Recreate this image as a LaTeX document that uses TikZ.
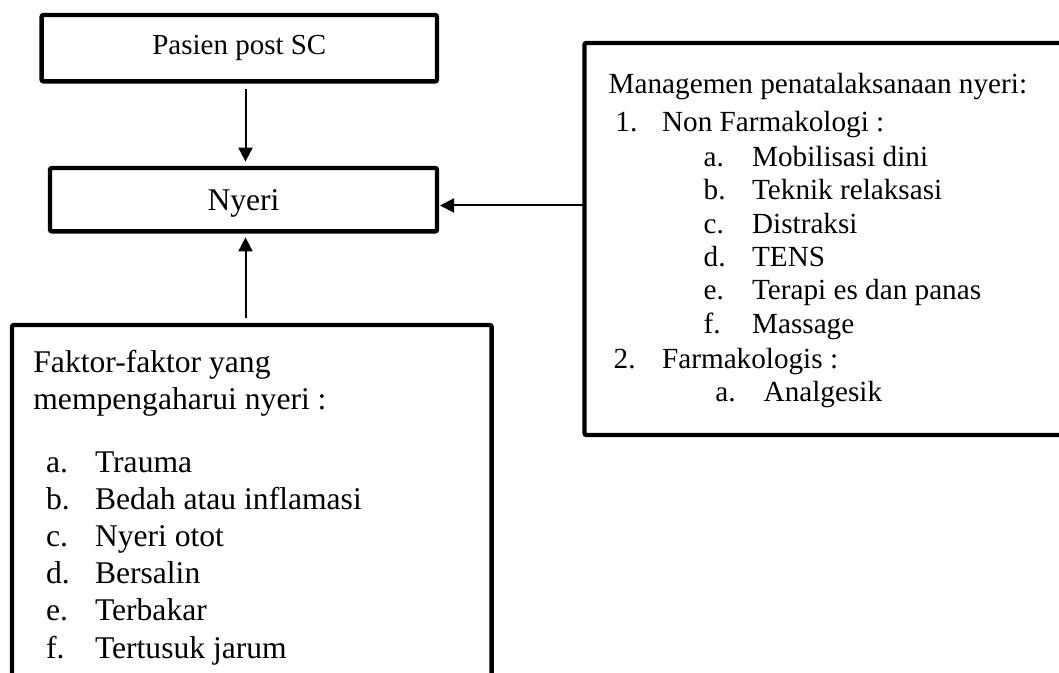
\documentclass[tikz,border=0pt]{standalone}
\usepackage{fontspec}
\setmainfont{Liberation Serif}[Ligatures=CommonOff]
\usetikzlibrary{arrows.meta}
\tikzset{
  box/.style   = {draw, line width=2.2pt, rounded corners=1pt, inner sep=0pt, outer sep=0pt},
  mtext/.style = {inner sep=0pt, font=\fontsize{14.6pt}{17pt}\selectfont},
  ftext/.style = {inner sep=0pt, font=\fontsize{15.8pt}{19pt}\selectfont},
  conn/.style  = {line width=1pt, -{Triangle[length=7pt,width=7pt]}}
}
\newcommand{\ListItem}[7]{%
  % item label (1., a., ...) in its own column
  \node[#1, anchor=base west] (#2-l) at (#3,#5) {#6};
  % item text in the text column
  \node[#1, anchor=base west] (#2-t) at (#4,#5) {#7};
}

\begin{document}
\begin{tikzpicture}[x=0.5pt, y=-0.5pt]
    % frame of the page, boxes run past it on the right and bottom
    \useasboundingbox (0,0) rectangle (1059,673);
    \clip (0,0) rectangle (1059,673);

    % main boxes
    \node[box, minimum width=197.7pt, minimum height=33.2pt,
      font=\fontsize{14.5pt}{17pt}\selectfont] (pasien) at (239.3,48.2) {Pasien post SC};
    \node[box, minimum width=193.5pt, minimum height=31.7pt, text depth=0pt,
      font=\fontsize{15.8pt}{19pt}\selectfont] (nyeri) at (243.5,199.7) {Nyeri};
    \node[box, minimum width=257.8pt, minimum height=196pt] (mgmt) at (842.3,239) {};
    \node[box, minimum width=239.8pt, minimum height=197.5pt] (faktor) at (251.8,522.5) {};

    % connectors
    \coordinate (vline) at (245.5,0);
    \coordinate (hline) at (0,205.5);
    \draw[conn, shorten <=4pt, shorten >=3.2pt] (pasien.south -| vline) -- (nyeri.north -| vline);
    \draw[conn, shorten <=3.5pt, shorten >=3pt] (faktor.north -| vline) -- (nyeri.south -| vline);
    \draw[conn, shorten >=1.5pt] (mgmt.west |- hline) -- (nyeri.east |- hline);

    % pain management list
    \node[mtext, anchor=base west] (mtitle) at (608.3,93.3) {Managemen penatalaksanaan nyeri:};
    \ListItem{mtext}{m1}{615}{661.7}{131.7}{1.}{Non Farmakologi :}
    \ListItem{mtext}{m1a}{703.3}{751.7}{166.7}{a.}{Mobilisasi dini}
    \ListItem{mtext}{m1b}{703.3}{751.7}{200}{b.}{Teknik relaksasi}
    \ListItem{mtext}{m1c}{703.3}{751.7}{233.3}{c.}{Distraksi}
    \ListItem{mtext}{m1d}{703.3}{751.7}{266.7}{d.}{TENS}
    \ListItem{mtext}{m1e}{703.3}{751.7}{300}{e.}{Terapi es dan panas}
    \ListItem{mtext}{m1f}{703.3}{751.7}{333.3}{f.}{Massage}
    \ListItem{mtext}{m2}{613.3}{661.7}{368.3}{2.}{Farmakologis :}
    \ListItem{mtext}{m2a}{715}{763.3}{401.7}{a.}{Analgesik}

    % factors list
    \node[ftext, anchor=base west] (ftitle1) at (33,372.5) {Faktor-faktor yang};
    \node[ftext, anchor=base west] (ftitle2) at (33,409.7) {mempengaharui nyeri :};
    \ListItem{ftext}{fa}{45.6}{94.6}{472}{a.}{Trauma}
    \ListItem{ftext}{fb}{45.6}{94.6}{509}{b.}{Bedah atau inflamasi}
    \ListItem{ftext}{fc}{45.6}{94.6}{546.3}{c.}{Nyeri otot}
    \ListItem{ftext}{fd}{45.6}{94.6}{583.6}{d.}{Bersalin}
    \ListItem{ftext}{fe}{45.6}{94.6}{620.8}{e.}{Terbakar}
    \ListItem{ftext}{ff}{45.6}{94.6}{658}{f.}{Tertusuk jarum}
\end{tikzpicture}
\end{document}
